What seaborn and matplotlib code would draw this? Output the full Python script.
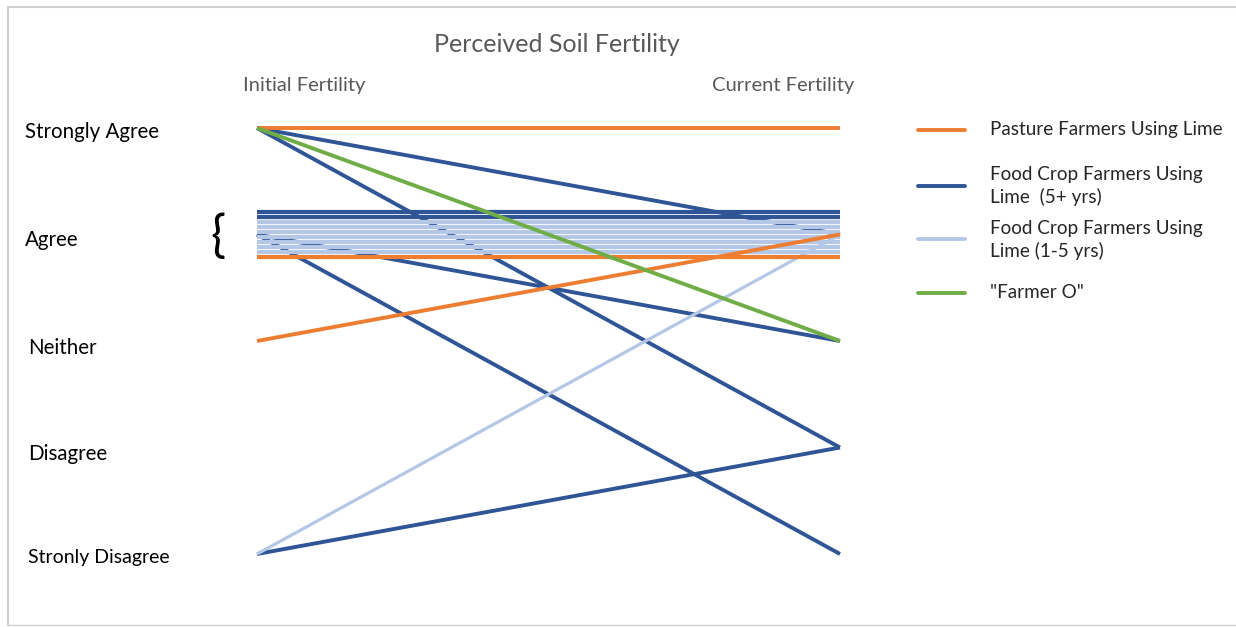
import matplotlib
matplotlib.use("Agg")
import matplotlib.pyplot as plt
import matplotlib.transforms as mtransforms
import seaborn as sns
import pandas as pd
from matplotlib.lines import Line2D

# ---------------- data ----------------
levels = ["Stronly Disagree", "Disagree", "Neither", "Agree", "Strongly Agree"]  # values 1..5
stages = ["Initial Fertility", "Current Fertility"]
groups = ["Pasture Farmers Using Lime",
          "Food Crop Farmers Using\nLime  (5+ yrs)",
          "Food Crop Farmers Using\nLime (1-5 yrs)",
          "\"Farmer O\""]

pasture_initial = [5, 3, 4]
pasture_current = [5, 4, 4]
food5_initial = [5, 5, 4, 4, 4, 4, 1]
food5_current = [4, 2, 4, 4, 1, 3, 2]
food15_initial = [4, 4, 4, 4, 4, 4, 4, 1]
food15_current = [4, 4, 4, 4, 4, 4, 4, 4]
farmerO_initial = [5]
farmerO_current = [3]

colors = {groups[0]: "#ED7D31", groups[1]: "#2F5597",
          groups[2]: "#B4C7E7", groups[3]: "#70AD47"}

# ---------------- layout ----------------
W, H = 1236, 627
PX_LEFT, PX_RIGHT = 257, 840
PX_TOP, PX_BOT = 128, 554
band_step = 0.046          # vertical spread of "Agree -> Agree" lines, in level units
band_top = 0.207

sns.set_style("white")
plt.rcParams["font.family"] = ["Lato", "DejaVu Sans"]

fig = plt.figure(figsize=(W / 100, H / 100), dpi=100)
ax = fig.add_axes([PX_LEFT / W, 1 - PX_BOT / H, (PX_RIGHT - PX_LEFT) / W, (PX_BOT - PX_TOP) / H])

# build long table
rows = []
uid = 0
band_idx = 0
band_order = [1, 2, 0]  # which groups' stayers fill the Agree band top->bottom
data = {0: (pasture_initial, pasture_current), 1: (food5_initial, food5_current),
        2: (food15_initial, food15_current), 3: (farmerO_initial, farmerO_current)}
stay_offset = {}
for g in band_order:
    ini, cur = data[g]
    for k, (a, b) in enumerate(zip(ini, cur)):
        if a == 4 and b == 4:
            stay_offset[(g, k)] = band_top - band_idx * band_step
            band_idx += 1
for g in range(4):
    ini, cur = data[g]
    for k, (a, b) in enumerate(zip(ini, cur)):
        off = stay_offset.get((g, k), 0.0)
        stay = (g, k) in stay_offset
        rows.append(dict(id=uid, group=groups[g], gi=g, stage=0, level=a + off, stay=stay))
        rows.append(dict(id=uid, group=groups[g], gi=g, stage=1, level=b + off, stay=stay))
        uid += 1
df = pd.DataFrame(rows)

def draw(sub, color, lw, z):
    if len(sub) == 0:
        return
    sns.lineplot(data=sub, x="stage", y="level", units="id", estimator=None, sort=False,
                 color=color, lw=lw, ax=ax, legend=False, clip_on=False, zorder=z,
                 solid_capstyle="butt")

LW = 2.8
# layer 1: crossing lines under the band
draw(df[(df.gi == 1) & (~df.stay)], colors[groups[1]], LW, 2)
draw(df[(df.gi == 2) & (~df.stay)], colors[groups[2]], 2.3, 2)
# layer 2: agree band
draw(df[(df.gi == 1) & (df.stay)], colors[groups[1]], 3.0, 3)
draw(df[(df.gi == 2) & (df.stay)], colors[groups[2]], 3.0, 3)
draw(df[(df.gi == 0) & (df.stay)], colors[groups[0]], 3.0, 4)
# layer 3: on top
draw(df[(df.gi == 0) & (~df.stay)], colors[groups[0]], LW, 5)
draw(df[df.gi == 3], colors[groups[3]], LW, 5)

ax.set_xlim(0, 1)
ax.set_ylim(1, 5)
ax.set_xlabel("")
ax.set_ylabel("")
ax.set_xticks([])
ax.set_yticks([1, 2, 3, 4, 5])
ax.set_yticklabels(levels, fontsize=14.8, color="#000000")
ax.tick_params(axis="y", length=0, pad=(PX_LEFT - 25) * 0.72)
sns.despine(ax=ax, left=True, bottom=True)
ax.patch.set_alpha(0)

label_dx = [3, 3, 3, 0, 0]     # small per-label horizontal nudges (px)
label_dy = [-4, -6, -7, -6, -4]  # small vertical nudges (px)
label_fs = [14.0, 14.8, 14.8, 14.8, 14.8]
for t, dx, dy, fs in zip(ax.get_yticklabels(), label_dx, label_dy, label_fs):
    t.set_horizontalalignment("left")
    t.set_verticalalignment("center")
    t.set_fontsize(fs)
    t.set_transform(t.get_transform() +
                    mtransforms.ScaledTranslation(dx / 100, dy / 100, fig.dpi_scale_trans))

# brace for the Agree band
fig.text(218 / W, 1 - 238 / H, "{", fontsize=36, ha="center", va="center", color="black",
         family=["Lato"])

# titles
fig.text(557 / W, 1 - 44 / H, "Perceived Soil Fertility", fontsize=18, color="#595959",
         ha="center", va="center")
fig.text(304 / W, 1 - 86 / H, stages[0], fontsize=14.5, color="#595959", ha="center", va="center")
fig.text(783 / W, 1 - 86 / H, stages[1], fontsize=14.5, color="#595959", ha="center", va="center")

# legend (drawn manually)
leg_y = [130, 186, 239, 293]
leg_ty = [130, 186, 240, 293]
for g, ly, ty in zip(groups, leg_y, leg_ty):
    fig.add_artist(Line2D([918 / W, 965 / W], [1 - ly / H, 1 - ly / H], color=colors[g],
                          lw=2.8, transform=fig.transFigure))
    fig.text(990 / W, 1 - ty / H, g, fontsize=13.6, color="#262626", ha="left", va="center",
             linespacing=1.3)

# frame
frame_c = "#D0D0D0"
fig.add_artist(Line2D([8 / W, 1.0], [1 - 7 / H, 1 - 7 / H], color=frame_c, lw=1.5,
                      transform=fig.transFigure))
fig.add_artist(Line2D([8 / W, 8 / W], [1 - 7 / H, 1 - 625 / H], color=frame_c, lw=1.5,
                      transform=fig.transFigure))
fig.add_artist(Line2D([8 / W, 1.0], [1 - 625 / H, 1 - 625 / H], color=frame_c, lw=1.0,
                      transform=fig.transFigure))

fig.savefig("out.png", dpi=100, facecolor="white")
